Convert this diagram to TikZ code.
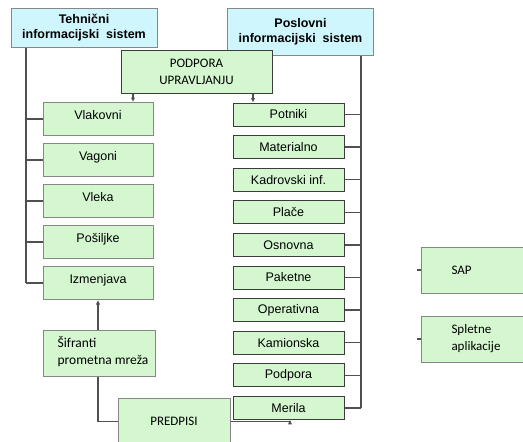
\documentclass[tikz,border=0pt]{standalone}
\usepackage{fontspec}
\setmainfont{Liberation Sans}
\newfontfamily\calibri{Carlito}
\usetikzlibrary{positioning,arrows.meta}
\definecolor{zelena}{RGB}{212,247,208}
\definecolor{modra}{RGB}{206,246,252}
\definecolor{obroba}{RGB}{135,135,135}
\definecolor{temna}{RGB}{60,60,60}
\tikzset{
    sistem/.style={%
        draw=obroba, fill=modra, line width=1pt,
        minimum width=146pt, minimum height=#1,
        align=center, font=\fontsize{12.5}{15}\selectfont\bfseries
        },
    sistem/.default=39pt,
    modul/.style={%
        draw=obroba, fill=zelena, line width=1pt,
        minimum width=110pt, minimum height=33pt,
        font=\fontsize{12.5}{14}\selectfont
        },
    gor/.style={text height=9pt, text depth=9pt},
    malimodul/.style={%
        draw=temna, fill=zelena, line width=1pt,
        minimum width=111pt, minimum height=23pt,
        font=\fontsize{12.5}{14}\selectfont
        },
    kalibri/.style={font=\calibri\fontsize{13}{17}\selectfont},
    vod/.style={draw=temna!90, line width=1.3pt},
    >={Latex[length=4.5pt,width=4.5pt]}
}
\newcommand{\sifcrke}{\calibri\fontsize{13.5}{16}\selectfont}

\begin{document}
\begin{tikzpicture}[x=1pt,y=-1pt]
\clip (0,0) rectangle (523,442);

\node[sistem] (teh) at (84,28) {Tehnični\\informacijski~~sistem};
\node[sistem=47pt] (pos) at (300.5,31.5) {Poslovni\\informacijski~~sistem};

\node[draw=temna, fill=zelena, line width=1pt, minimum width=151pt, minimum height=43pt,
  align=center, kalibri] (podpora) at (196.5,71.5) {PODPORA\\UPRAVLJANJU};

% levi sklop
\node[modul, gor] (vlak) at (98,119) {Vlakovni};
\node[modul, gor, below=7pt of vlak] (vag) {Vagoni};
\node[modul, gor, below=7pt of vag] (vle) {Vleka};
\node[modul, gor, below=7pt of vle] (pos1) {Pošiljke};
\node[modul, gor, below=7pt of pos1] (izm) {Izmenjava};

% desni sklop
\node[malimodul] (pot) at (288.5,114.5) {Potniki};
\node[malimodul, below=8.6pt of pot] (mat) {Materialno};
\node[malimodul, below=8.6pt of mat] (kad) {Kadrovski inf.};
\node[malimodul, below=8.6pt of kad] (pla) {Plače};
\node[malimodul, below=8.6pt of pla] (osn) {Osnovna};
\node[malimodul, below=8.6pt of osn] (pak) {Paketne};
\node[malimodul, below=8.6pt of pak] (ope) {Operativna};
\node[malimodul, below=8.6pt of ope] (kam) {Kamionska};
\node[malimodul, below=8.6pt of kam] (pod) {Podpora};
\node[malimodul, below=8.6pt of pod] (mer) {Merila};

\node[modul, minimum width=112pt, minimum height=46pt] (sif) at (99,353)
  {\begin{tabular}{@{\hspace{8pt}}l@{}}\sifcrke Šifranti\\[3pt]\sifcrke prometna mreža\end{tabular}};
\node[modul, minimum width=112pt, minimum height=47pt, kalibri] (pred) at (174,421.5) {PREDPISI};

\node[modul, minimum width=130pt, minimum height=46pt, anchor=west, text width=70pt,
  kalibri] (sap) at (421,270) {SAP};
\node[modul, minimum width=130pt, minimum height=46pt, anchor=west, text width=70pt, align=left,
  kalibri] (splet) at (421,339) {Spletne\\aplikacije};

\coordinate (levo) at (26,0);
\coordinate (desno) at (361,0);
\coordinate (pvlak) at (133,0);
\coordinate (ppot) at (253,0);
\coordinate (pmer) at (290,0);

\draw[vod] (teh.south -| levo) -- (izm.west -| levo);
\foreach \n in {vlak,vag,vle,pos1,izm}
  \draw[vod] (\n.west -| levo) -- (\n.west);

\draw[vod] (pos.south -| desno) -- (mer.east -| desno);
\foreach \n in {pot,mat,kad,pla,osn,pak,ope,kam,pod,mer}
  \draw[vod] (\n.east) -- (\n.east -| desno);

\draw[vod, ->] (podpora.south -| pvlak) -- (vlak.north -| pvlak);
\draw[vod, ->] (podpora.south -| ppot) -- (pot.north -| ppot);

\draw[vod, ->] (sif.north -| izm.south) -- (izm.south);
\draw[vod] (sif.south -| izm.south) |- (pred.west);
\draw[vod, ->] (pred.east) -- (pred.east -| pmer) -- (mer.south -| pmer);

\draw[vod] ([xshift=-4pt]sap.west) -- (sap.west);
\draw[vod] ([xshift=-4pt]splet.west) -- (splet.west);

\end{tikzpicture}
\end{document}
